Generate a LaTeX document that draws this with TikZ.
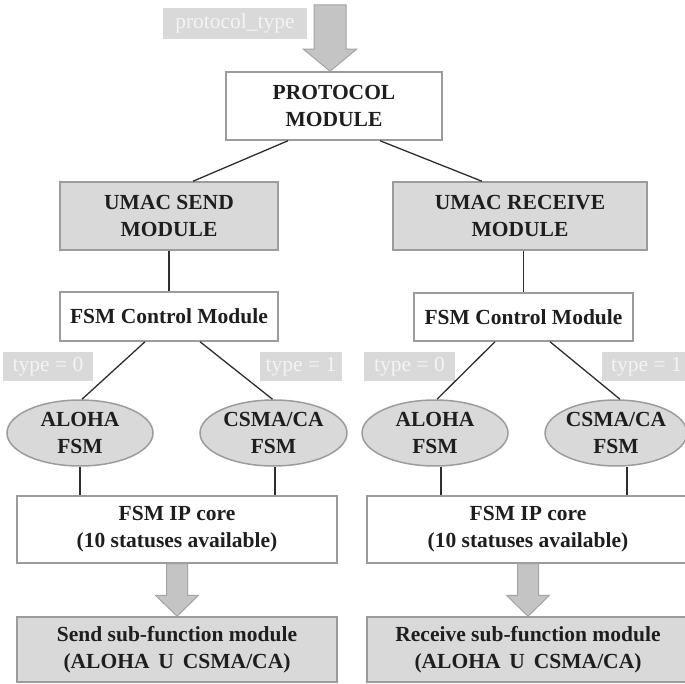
\documentclass[tikz,border=0pt]{standalone}
\usepackage{fontspec}
\setmainfont{Liberation Serif}
\usetikzlibrary{shapes.geometric,calc}

\definecolor{boxline}{HTML}{9C9C9C}
\definecolor{boxgray}{HTML}{D9D9D9}
\definecolor{arrowgray}{HTML}{C4C4C4}
\definecolor{arrowline}{HTML}{A4A4A4}
\definecolor{inktext}{HTML}{1E1E1E}
\definecolor{tagtext}{HTML}{F4F4F4}
\definecolor{wire}{HTML}{2E2E2E}

% block arrow from #1 (shaft top) to #2 (tip); #3 shaft half width,
% #4 head half width, #5 head length
\newcommand\flowarrow[5]{%
  \draw[fatarrow] let \p1=(#1), \p2=(#2) in
    (\x1-#3,\y1) -- (\x1-#3,\y2+#5) -- (\x1-#4,\y2+#5) -- (\x1,\y2)
    -- (\x1+#4,\y2+#5) -- (\x1+#3,\y2+#5) -- (\x1+#3,\y1) -- cycle;}

\tikzset{
  txt/.style={font=\fontsize{21.5}{27}\selectfont\bfseries, text=inktext, align=center, inner sep=0pt},
  whitebox/.style={txt, draw=boxline, line width=1.5pt, fill=white, rectangle},
  graybox/.style={txt, draw=boxline, line width=1.5pt, fill=boxgray, rectangle},
  fsmoval/.style={txt, draw=boxline, line width=1.5pt, fill=boxgray, ellipse},
  tag/.style={font=\fontsize{21.5}{27}\selectfont, text=tagtext, fill=boxgray, inner sep=0pt, rectangle},
  wireline/.style={draw=wire, line width=1.3pt},
  fatarrow/.style={fill=arrowgray, draw=arrowline, line width=1pt},
}

\begin{document}
\begin{tikzpicture}[x=1pt, y=-1pt]
  \useasboundingbox (0,0) rectangle (685,684);
  \fill[white] (0,0) rectangle (685,684);
  \clip (0,0) rectangle (685,684);

  % input label and top module
  \node[tag, minimum width=144pt, minimum height=31pt] (ptype) at (235,23.5) {protocol\_type};
  \node[whitebox, minimum width=216pt, minimum height=68pt] (proto) at (334,106) {PROTOCOL\\MODULE};
  \coordinate (intop) at (330,5);

  % send / receive modules
  \node[graybox, minimum width=218pt, minimum height=68pt] (send) at (169,216) {UMAC SEND\\MODULE};
  \node[graybox, minimum width=254pt, minimum height=68pt] (recv) at (520,216) {UMAC RECEIVE\\MODULE};

  % FSM control modules
  \node[whitebox, minimum width=218pt, minimum height=49pt] (fsmL) at (169,316.5) {FSM Control Module};
  \node[whitebox, minimum width=219pt, minimum height=48pt] (fsmR) at (523.5,317) {FSM Control Module};

  % type selectors
  \node[tag, minimum width=90pt, minimum height=29pt] (t0L) at (48,366.5) {type = 0};
  \node[tag, minimum width=82pt, minimum height=29pt] (t1L) at (301,366.5) {type = 1};
  \node[tag, minimum width=91pt, minimum height=29pt] (t0R) at (409.5,366.5) {type = 0};
  \node[tag, minimum width=89pt, minimum height=29pt] (t1R) at (646.5,366.5) {type = 1};

  % protocol FSMs
  \node[fsmoval, minimum width=146pt, minimum height=66pt] (alohaL) at (80,433) {ALOHA\\FSM};
  \node[fsmoval, minimum width=147pt, minimum height=66pt] (csmaL) at (273.5,433) {CSMA/CA\\FSM};
  \node[fsmoval, minimum width=146pt, minimum height=66pt] (alohaR) at (435,433) {ALOHA\\FSM};
  \node[fsmoval, minimum width=136pt, minimum height=66pt] (csmaR) at (616,433) {CSMA/CA\\FSM};

  % IP cores
  \node[whitebox, minimum width=320pt, minimum height=67pt] (ipL) at (177,529.5) {FSM IP core\\(10 statuses available)};
  \node[whitebox, minimum width=322pt, minimum height=67pt] (ipR) at (528,529.5) {FSM IP core\\(10 statuses available)};

  % sub-function modules
  \node[graybox, minimum width=320pt, minimum height=65pt] (subL) at (177,649.5) {Send sub-function module\\(ALOHA \,U\, CSMA/CA)};
  \node[graybox, minimum width=322pt, minimum height=65pt] (subR) at (528,649.5) {Receive sub-function module\\(ALOHA \,U\, CSMA/CA)};

  % connectors
  \draw[wireline] ([xshift=-46pt]proto.south) -- ([xshift=24pt]send.north);
  \draw[wireline] ([xshift=46pt]proto.south) -- ([xshift=-38pt]recv.north);
  \draw[wireline] (send.south) -- (fsmL.north);
  \draw[wireline] (fsmR.north |- recv.south) -- (fsmR.north);
  \draw[wireline] ([xshift=-24pt]fsmL.south) -- ([xshift=2pt]alohaL.north);
  \draw[wireline] ([xshift=31pt]fsmL.south) -- ([xshift=-1pt]csmaL.north);
  \draw[wireline] ([xshift=-28.5pt]fsmR.south) -- ([xshift=2pt]alohaR.north);
  \draw[wireline] ([xshift=26.5pt]fsmR.south) -- ([xshift=4pt]csmaR.north);
  \draw[wireline] (alohaL.south) -- (alohaL.south |- ipL.north);
  \draw[wireline] ([xshift=1.5pt]csmaL.south) -- ([xshift=1.5pt]csmaL.south |- ipL.north);
  \draw[wireline] ([xshift=6pt]alohaR.south) -- ([xshift=6pt]alohaR.south |- ipR.north);
  \draw[wireline] ([xshift=11pt]csmaR.south) -- ([xshift=11pt]csmaR.south |- ipR.north);

  % block arrows
  \flowarrow{intop}{intop |- proto.north}{16pt}{26.5pt}{22pt}
  \flowarrow{ipL.south}{subL.north}{10.5pt}{21.5pt}{21pt}
  \flowarrow{ipR.south}{subR.north}{10.5pt}{21.5pt}{21pt}
\end{tikzpicture}
\end{document}
